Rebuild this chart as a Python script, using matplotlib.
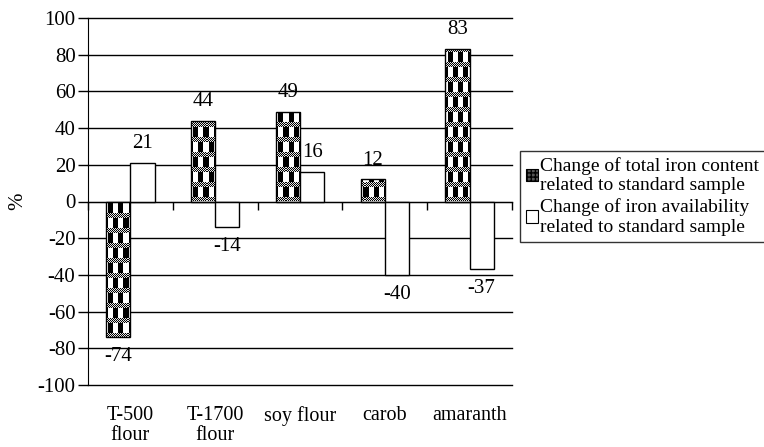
import matplotlib
matplotlib.use('Agg')
import matplotlib.pyplot as plt
from matplotlib.patches import Patch
import numpy as np

plt.rcParams['font.family'] = ['Liberation Serif', 'DejaVu Serif']
plt.rcParams['axes.unicode_minus'] = False

categories = ['T-500\nflour', 'T-1700\nflour', 'soy flour', 'carob', 'amaranth']
total_iron = [-74, 44, 49, 12, 83]
availability = [21, -14, 16, -40, -37]
series_names = ['Change of total iron content\nrelated to standard sample',
                'Change of iron availability\nrelated to standard sample']

fs = 15

fig = plt.figure(figsize=(7.64, 4.47), dpi=100)
ax = fig.add_axes([88 / 764, 1 - 385 / 447, 424 / 764, 367 / 447])

x = np.arange(len(categories))
w = 0.285
ax.set_xlim(-0.5, len(categories) - 0.5)
ax.set_ylim(-100, 100)

# black gridlines every 20
ax.set_yticks(np.arange(-100, 101, 20))
ax.yaxis.grid(True, color='black', linewidth=1.0)
ax.set_axisbelow(True)
ax.tick_params(axis='y', direction='out', length=7, width=1, labelsize=fs, pad=2)

b1 = ax.bar(x - w / 2, total_iron, w, facecolor='none', edgecolor='black',
            linewidth=1, zorder=3)
b2 = ax.bar(x + w / 2, availability, w, facecolor='white', edgecolor='black',
            linewidth=1, zorder=3)

# checkered texture for the total-iron bars
fig.canvas.draw()
bb = ax.get_window_extent()
nw, nh = int(round(bb.width)), int(round(bb.height))
rr, cc = np.mgrid[0:nh, 0:nw]
band = rr // 15
dotted = (rr % 15) < 5
tex = np.where(dotted, ((rr + cc) % 2) * 0.9,
               (((cc // 5) + band) % 2).astype(float))
for bar in b1:
    im = ax.imshow(tex, cmap='gray', vmin=0, vmax=1, interpolation='nearest',
                   extent=[-0.5, len(categories) - 0.5, -100, 100],
                   aspect='auto', zorder=2)
    im.set_clip_path(bar)
ax.set_xlim(-0.5, len(categories) - 0.5)
ax.set_ylim(-100, 100)

# category axis crossing at zero, boundary ticks
ax.spines['bottom'].set_position(('data', 0))
ax.spines['bottom'].set_zorder(4)
ax.spines['right'].set_visible(False)
ax.spines['top'].set_visible(False)
ax.set_xticks(np.arange(-0.5, len(categories), 1.0))
ax.set_xticklabels([])
ax.tick_params(axis='x', direction='out', length=6, width=1)

# category names below the plot area
sec = ax.secondary_xaxis(0.0)
sec.set_xticks(x)
sec.set_xticklabels(categories, fontsize=14.5, linespacing=1.08)
sec.tick_params(length=0, pad=15)
sec.spines['bottom'].set_visible(False)

for bars, vals in ((b1, total_iron), (b2, availability)):
    for bar, v in zip(bars, vals):
        off = 14 if v >= 0 else -14
        ax.annotate(f'{v}', (bar.get_x() + bar.get_width() / 2, v),
                    xytext=(0, off), textcoords='offset points',
                    ha='center', va='center', fontsize=fs)

for gl in ax.yaxis.get_gridlines():
    gl.set_clip_on(False)

fig.text(18 / 764, 1 - 201 / 447, '%', rotation=90, fontsize=fs,
         ha='center', va='center')

# legend swatches
h1 = Patch(facecolor='#555555', edgecolor='black', hatch='++++', linewidth=0.8)
h2 = Patch(facecolor='white', edgecolor='black', linewidth=0.8)
leg = fig.legend([h1, h2], series_names, loc='upper left',
                 bbox_to_anchor=(520 / 764, 1 - 151 / 447), fontsize=14,
                 frameon=True, fancybox=False, edgecolor='black',
                 handlelength=0.6, handleheight=0.6, handletextpad=0.15,
                 borderpad=0.3, labelspacing=0.2, borderaxespad=0)
leg.get_frame().set_linewidth(1)

fig.savefig('out.png', dpi=100)
